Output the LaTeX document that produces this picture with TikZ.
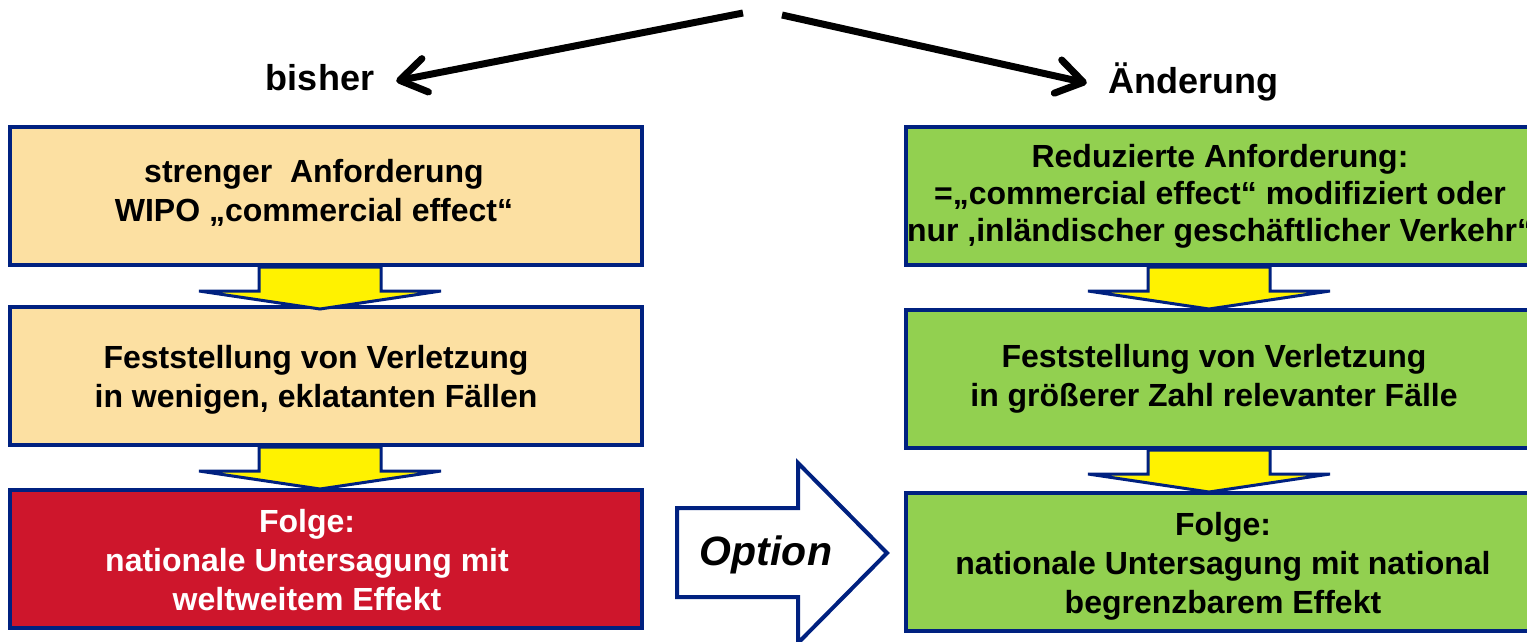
\documentclass[tikz,border=0pt]{standalone}
\usepackage{fontspec}
\setmainfont{Liberation Sans}
\usepackage{tikz}
\usetikzlibrary{arrows.meta}

\definecolor{navyline}{RGB}{0,33,128}
\definecolor{peach}{RGB}{252,224,162}
\definecolor{folgered}{RGB}{206,22,44}
\definecolor{leafgreen}{RGB}{146,208,80}

\newcommand{\blockdown}[2]{\draw[downarr] ([xshift=#2]#1.south) ++(-61,0) -- ++(0,24) -- ++(-60,0) -- ++(121,18) -- ++(121,-18) -- ++(-60,0) -- ++(0,-24) -- cycle;}

\begin{document}
\begin{tikzpicture}[x=1pt, y=-1pt,
    box/.style={draw=navyline, line width=4pt, minimum width=632pt, minimum height=138pt, inner sep=0pt},
    boxtxt/.style={inner sep=0pt, align=center, font=\fontsize{32}{39}\selectfont\bfseries},
    oldbox/.style={box, fill=peach},
    newbox/.style={box, fill=leafgreen, minimum width=628pt},
    headtxt/.style={inner sep=2pt, font=\fontsize{36}{40}\selectfont\bfseries},
    downarr/.style={draw=navyline, fill=yellow, line width=3pt},
    bigarr/.style={-{Straight Barb[length=26pt,width=34pt,round]}, line width=7pt}]
            \useasboundingbox (0,0) rectangle (1527,641);
            \clip (0,0) rectangle (1527,641);

            \node[headtxt] (bisher) at (320,78) {bisher};
            \node[headtxt] (aend) at (1193,82) {Änderung};
            \coordinate (fromL) at (743,13);
            \coordinate (fromR) at (782,15);
            \draw[bigarr] (fromL) -- ([xshift=20pt,yshift=-3pt]bisher.east);
            \draw[bigarr] (fromR) -- ([xshift=-19pt,yshift=-1pt]aend.west);

            \node[oldbox, label={[boxtxt, xshift=-12pt, yshift=3pt]center:{strenger\ \ Anforderung\\WIPO „commercial effect“}}] (o1) at (326,196) {};
            \node[oldbox, label={[boxtxt, xshift=-10pt, yshift=-4pt]center:{Feststellung von Verletzung\\in wenigen, eklatanten Fällen}}] (o2) at (326,376) {};
            \node[oldbox, fill=folgered, label={[boxtxt, text=white, xshift=-19pt, yshift=-1pt]center:{Folge:\\nationale Untersagung mit\\weltweitem Effekt}}] (o3) at (326,559) {};

            \node[newbox, label={[boxtxt, font=\fontsize{32}{37}\selectfont\bfseries]center:{Reduzierte Anforderung:\\=„commercial effect“ modifiziert oder\\nur ‚inländischer geschäftlicher Verkehr“}}] (n1) at (1220,196) {};
            \node[newbox, label={[boxtxt, xshift=-6pt]center:{Feststellung von Verletzung\\in größerer Zahl relevanter Fälle}}] (n2) at (1220,379) {};
            \node[newbox, label={[boxtxt, xshift=3pt, yshift=-4pt]center:{Folge:\\nationale Untersagung mit national\\begrenzbarem Effekt}}] (n3) at (1220,562) {};

            \blockdown{o1}{-6pt}
            \blockdown{o2}{-6pt}
            \blockdown{n1}{-11pt}
            \blockdown{n2}{-11pt}

            \draw[draw=navyline, fill=white, line width=4pt] (677,508) -- (798,508) -- (798,463) -- (887,553) -- (798,643) -- (798,597) -- (677,597) -- cycle;
            \node[font=\fontsize{41}{41}\selectfont\bfseries\itshape] (opt) at (766,555) {Option};
        \end{tikzpicture}
\end{document}
